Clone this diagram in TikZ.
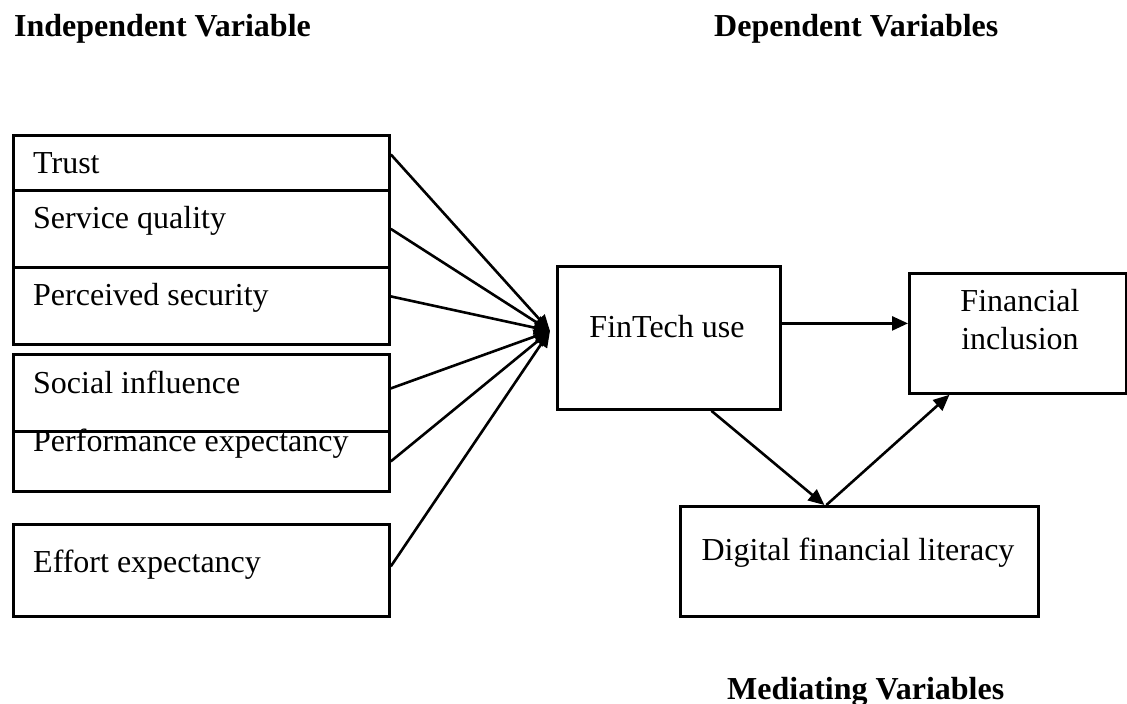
\documentclass[tikz,border=0pt]{standalone}
\usepackage{fontspec}
\setmainfont{Liberation Serif}
\usetikzlibrary{arrows.meta}

\tikzset{
    varbox/.style={draw, fill=white, line width=2.8pt, inner sep=0pt, anchor=north west},
    vartext/.style={font=\fontsize{32}{38}\selectfont, inner sep=0pt},
    heading/.style={font=\fontsize{32}{38}\selectfont\bfseries, inner sep=0pt, anchor=base west},
    conn/.style={line width=2.6pt, -{Triangle[length=16pt,width=14pt]}}
}

\begin{document}
\begin{tikzpicture}[x=1pt, y=-1pt]
    \useasboundingbox (0,0) rectangle (1127,704);

    % headings
    \node[heading] (indep) at (14,36) {Independent Variable};
    \node[heading] (dep) at (714,36) {Dependent Variables};
    \node[heading] (med) at (727,699) {Mediating Variables};

    % independent variables
    \node[varbox, minimum width=376pt, minimum height=55pt] (trust) at (12,134) {};
    \node[varbox, minimum width=376pt, minimum height=77pt] (service) at (12,189) {};
    \node[varbox, minimum width=376pt, minimum height=77pt] (security) at (12,266) {};
    \node[varbox, minimum width=376pt, minimum height=60pt] (perform) at (12,430) {};
    \node[varbox, minimum width=376pt, minimum height=77pt] (social) at (12,353) {};
    \node[varbox, minimum width=376pt, minimum height=92pt] (effort) at (12,523) {};
    \node[vartext, anchor=base west] (trusttxt) at (33,173) {Trust};
    \node[vartext, anchor=base west] (servicetxt) at (33,228) {Service quality};
    \node[vartext, anchor=base west] (securitytxt) at (33,305) {Perceived security};
    \node[vartext, anchor=base west] (socialtxt) at (33,393) {Social influence};
    \node[vartext, anchor=base west] (performtxt) at (33,451) {Performance expectancy};
    \node[vartext, anchor=base west] (efforttxt) at (33,572) {Effort expectancy};

    % fintech, inclusion, literacy
    \node[varbox, minimum width=223pt, minimum height=143pt] (fin) at (556,265) {};
    \node[vartext, anchor=base] (fintxt) at (667,337) {FinTech use};
    \node[varbox, minimum width=217pt, minimum height=120pt] (incl) at (908,272) {};
    \node[vartext, align=center] (incltxt) at (1020,320) {Financial\\inclusion};
    \node[varbox, minimum width=358pt, minimum height=110pt] (lit) at (679,505) {};
    \node[vartext, anchor=base] (littxt) at (858,560) {Digital financial literacy};

    \coordinate (hub) at (550,331);

    % arrows into FinTech use
    \draw[conn] ([yshift=8.5pt]trust.east) -- (hub);
    \draw[conn] (service.east) -- (hub);
    \draw[conn] ([yshift=9.5pt]security.east) -- (hub);
    \draw[conn] ([yshift=4.5pt]social.east) -- (hub);
    \draw[conn] (perform.east) -- (hub);
    \draw[conn] ([yshift=4pt]effort.east) -- (hub);

    \path ([yshift=14.5pt]fin.east) coordinate (finout);
    \draw[conn] (finout) -- (finout -| incl.west);
    \draw[conn] ([xshift=42.5pt]fin.south) -- ([xshift=-35pt]lit.north);
    \draw[conn] ([xshift=-33pt]lit.north) -- ([xshift=-68.5pt]incl.south);
\end{tikzpicture}
\end{document}
